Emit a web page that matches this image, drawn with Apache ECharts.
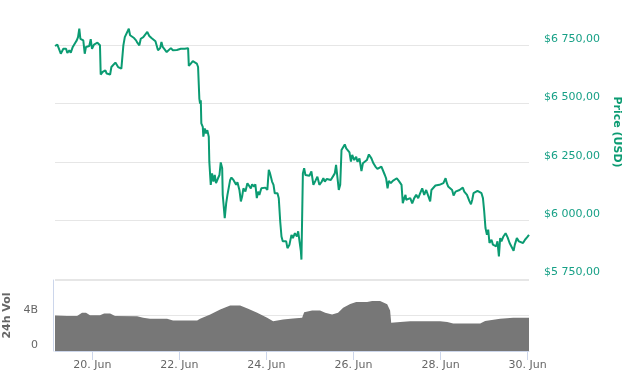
<!DOCTYPE html>
<html>
<head>
<meta charset="utf-8">
<script src="https://cdn.jsdelivr.net/npm/echarts@6/dist/echarts.min.js"></script>
<style>
html,body{margin:0;padding:0;background:#fff;}
#c{width:623px;height:386px;}
</style>
</head>
<body>
<div id="c"></div>
<script>
// hours since 19 Jun 00:00
const hours = [3.4,4.7,5.8,6.6,7.3,8.0,9.5,10.2,11.3,12.1,13.2,13.9,14.6,15.4,16.1,16.8,17.4,18.3,19.0,19.8,20.5,21.6,22.3,23.1,23.8,24.9,26.0,26.8,27.9,28.2,28.6,29.7,30.5,31.2,31.9,33.0,33.8,34.5,35.6,36.7,37.5,38.2,39.3,40.0,40.8,41.1,41.9,43.0,44.1,44.8,45.9,47.0,48.1,48.8,49.9,50.7,52.1,53.2,54.3,55.4,56.6,57.7,58.8,59.5,60.2,61.4,62.1,62.8,63.9,65.0,66.1,
67.3,68.4,69.5,70.6,71.7,72.8,73.9,75.0,76.1,76.8,77.2,78.3,79.4,80.5,81.6,82.3,83.0,83.4,83.8,84.1,84.9,85.2,86.0,86.7,87.4,88.2,88.5,89.3,90.0,90.8,91.5,92.2,93.3,94.1,94.8,95.6,95.9,96.3,97.0,97.8,98.5,99.3,100.0,100.7,101.8,102.6,103.3,104.0,105.1,105.9,106.6,107.3,108.4,109.5,110.6,111.4,112.1,113.2,113.9,114.7,115.4,116.1,117.2,118.3,119.4,120.5,121.3,122.0,123.1,123.9,124.6,125.3,126.1,126.8,127.6,128.3,129.0,130.1,130.9,131.6,
132.0,132.7,133.8,134.6,135.7,136.8,137.5,138.2,139.0,139.3,140.1,140.8,141.5,142.6,143.7,144.8,145.9,147.0,148.1,149.2,150.3,151.4,152.2,153.3,154.4,155.5,156.6,157.7,158.4,159.2,159.9,160.7,161.4,162.1,163.2,164.0,165.1,165.8,166.6,167.3,168.4,169.5,170.2,171.3,172.4,173.2,174.3,175.4,176.5,177.2,177.9,179.0,180.1,181.2,182.3,183.4,184.5,185.3,186.0,186.8,187.5,188.6,189.7,190.8,191.9,193.0,193.8,194.5,195.2,196.0,196.7,
197.1,198.2,199.3,200.4,201.5,202.6,203.7,204.8,205.9,207.0,208.1,209.2,210.3,211.0,212.1,213.2,214.3,215.4,216.5,217.6,218.8,219.5,220.2,221.3,222.4,223.2,224.3,225.4,226.5,227.6,228.3,229.1,229.8,230.6,231.3,232.0,232.8,233.5,234.2,235.3,236.4,237.5,238.6,239.4,240.1,240.8,241.6,242.3,243.0,244.1,244.9,245.6,246.7,247.4,248.2,248.9,249.6,250.7,251.9,253.0,254.1,255.2,256.3,257.0,258.1,259.2,260.3,261.5,262.6,263.7,264.8];
const price = [6747,6753,6747,6714,6718,6735,6735,6717,6729,6718,6743,6750,6761,6771,6785,6821,6778,6785,6771,6714,6743,6735,6747,6776,6735,6753,6747,6761,6767,6750,6625,6636,6629,6643,6629,6633,6625,6657,6662,6676,6682,6657,6662,6650,6643,6750,6785,6790,6821,6793,6790,6781,6771,6761,6750,6778,6785,6790,6807,6790,6781,6776,6767,6771,6729,6738,6764,6743,6738,6721,6729,
6738,6729,6721,6730,6738,6735,6741,6735,6741,6738,6662,6672,6682,6679,6672,6657,6522,6501,6515,6416,6401,6359,6394,6373,6387,6359,6252,6153,6202,6167,6195,6160,6181,6195,6249,6224,6110,6074,6010,6074,6110,6103,6174,6184,6174,6181,6153,6164,6131,6082,6103,6138,6124,6160,6167,6138,6155,6146,6155,6096,6124,6110,6138,6131,6141,6131,6217,6202,6167,6153,6117,6110,6117,6096,5996,5932,5911,5904,5911,5882,
5875,5897,5939,5925,5946,5932,5954,5957,5868,5833,6202,6224,6195,6202,6192,6210,6153,6170,6188,6153,6164,6181,6167,6178,6170,6174,6181,6202,6238,6245,6131,6153,6302,6295,6326,6309,6316,6292,6252,6281,6259,6273,6252,6266,6212,6245,6252,6259,6283,6288,6266,6245,6231,6221,6224,6231,6235,6195,6181,6138,6170,6160,6170,6167,6181,6170,6174,6153,6074,6096,6110,
6089,6082,6096,6074,6096,6110,6096,6117,6138,6110,6131,6124,6082,6131,6138,6150,6146,6153,6150,6160,6181,6160,6146,6153,6131,6107,6124,6121,6131,6138,6141,6124,6117,6110,6103,6082,6070,6089,6117,6124,6127,6124,6117,6096,6039,5968,5939,5961,5904,5918,5897,5904,5890,5911,5847,5925,5911,5932,5946,5928,5904,5897,5871,5897,5925,5911,5918,5904,5918,5928,5939];

const volHours = [3.4,10.0,15.6,18.3,20.5,22.7,28.2,30.5,33.8,36.5,48.7,52.0,55.8,65.2,68.5,81.8,83.4,89.0,94.5,100.0,105.5,109.9,114.9,120.4,123.7,129.2,134.7,139.7,140.8,145.2,149.6,152.4,156.2,159.5,162.3,166.2,169.5,175.5,178.3,182.7,186.6,188.2,188.8,193.8,199.3,215.8,219.7,223.0,237.9,240.6,248.9,256.1,264.8];
const volume = [4.0,3.94,3.94,4.31,4.31,4.03,4.03,4.23,4.23,3.95,3.92,3.74,3.62,3.62,3.43,3.43,3.62,4.11,4.69,5.14,5.14,4.76,4.31,3.74,3.35,3.54,3.66,3.74,4.38,4.57,4.57,4.31,4.11,4.31,4.88,5.3,5.52,5.52,5.64,5.64,5.26,4.57,3.17,3.28,3.35,3.35,3.28,3.09,3.09,3.39,3.62,3.74,3.74];

const dayTicks = [24,72,120,168,216,264];
const monthName = 'Jun';
const priceAxisTitle = 'Price (USD)';
const volAxisTitle = '24h Vol';

const FONT = 'DejaVu Sans';
const lineColor = '#0b9b72';
const priceLabelColor = '#17a086';

const chart = echarts.init(document.getElementById('c'), null, {renderer:'canvas'});
const xMin = hours[0], xMax = hours[hours.length-1];

chart.setOption({
  animation:false,
  backgroundColor:'#fff',
  grid:[
    {left:55, right:94, top:45.3, height:233.7, containLabel:false, outerBoundsMode:'none'},
    {left:55, right:94, top:280, height:71, containLabel:false, outerBoundsMode:'none'}
  ],
  xAxis:[
    {type:'value', gridIndex:0, min:xMin, max:xMax, show:false},
    {type:'value', gridIndex:1, min:xMin, max:xMax,
      axisLine:{show:true, lineStyle:{color:'#ccd6eb', width:1}},
      axisTick:{show:true, length:9, customValues:dayTicks, lineStyle:{color:'#ccd6eb'}},
      splitLine:{show:false},
      axisLabel:{customValues:dayTicks, margin:9, color:'#666', fontSize:11, fontFamily:FONT,
        formatter:v => (19 + Math.round(v/24)) + '. ' + monthName}
    }
  ],
  yAxis:[
    {type:'value', gridIndex:0, position:'right', min:5750, max:6750, interval:250,
      axisLine:{show:false}, axisTick:{show:false},
      splitLine:{lineStyle:{color:'#e6e6e6', width:1}},
      axisLabel:{margin:15, color:priceLabelColor, fontSize:11, fontFamily:FONT, verticalAlign:'bottom', padding:[0,0,1,0],
        formatter:v => '$' + Math.floor(v/1000) + ' ' + String(v%1000).padStart(3,'0') + ',00'}
    },
    {type:'value', gridIndex:1, position:'left', min:0, max:8, interval:4, offset:2,
      axisLine:{show:true, lineStyle:{color:'#ccd6eb', width:1}}, axisTick:{show:false},
      splitLine:{lineStyle:{color:'#e6e6e6', width:1}},
      name:volAxisTitle, nameLocation:'middle', nameGap:36,
      nameTextStyle:{color:'#666', fontSize:11, fontWeight:'bold', fontFamily:FONT},
      axisLabel:{margin:15, color:'#666', fontSize:11, fontFamily:FONT, verticalAlign:'bottom',
        formatter:v => v===0 ? '0' : (v===4 ? '4B' : '')}
    }
  ],
  graphic:[
    {type:'text', x:617, y:132, rotation:-Math.PI/2,
      style:{text:priceAxisTitle, textAlign:'center', textVerticalAlign:'middle',
        fill:lineColor, font:'bold 11px "DejaVu Sans"'}}
  ],
  series:[
    {type:'line', xAxisIndex:1, yAxisIndex:1, data:volHours.map((h,i)=>[h,volume[i]]),
      showSymbol:false, clip:false, lineStyle:{width:0, color:'#777'},
      areaStyle:{color:'#777777', opacity:1}, z:1},
    {type:'line', xAxisIndex:0, yAxisIndex:0, data:hours.map((h,i)=>[h,price[i]]),
      showSymbol:false, clip:false, lineStyle:{width:2, color:lineColor}, z:3}
  ]
});
</script>
</body>
</html>
